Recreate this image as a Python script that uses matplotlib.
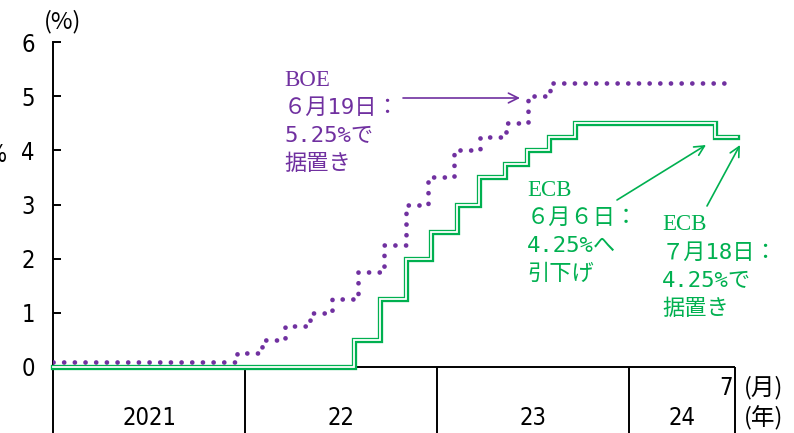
import pandas as pd
import matplotlib
matplotlib.use("Agg")
import matplotlib.pyplot as plt

# policy rates (%), step changes by effective date
boe_dates = ["2021-01-01", "2021-12-16", "2022-02-03", "2022-03-17", "2022-05-05",
             "2022-06-16", "2022-08-04", "2022-09-22", "2022-11-03", "2022-12-15",
             "2023-02-02", "2023-03-23", "2023-05-11", "2023-06-22", "2023-08-03"]
boe_rates = [0.1, 0.25, 0.5, 0.75, 1.0, 1.25, 1.75, 2.25, 3.0, 3.5,
             4.0, 4.25, 4.5, 5.0, 5.25]
boe_end = "2024-07-18"

ecb_dates = ["2021-01-01", "2022-07-27", "2022-09-14", "2022-11-02", "2022-12-21",
             "2023-02-08", "2023-03-22", "2023-05-10", "2023-06-21", "2023-08-02",
             "2023-09-20", "2024-06-12"]
ecb_rates = [0.0, 0.5, 1.25, 2.0, 2.5, 3.0, 3.5, 3.75, 4.0, 4.25, 4.5, 4.25]
ecb_end = "2024-07-24"

year_starts = ["2021-01-01", "2022-01-01", "2023-01-01", "2024-01-01"]
year_labels = ["2021", "22", "23", "24"]
x_end = "2024-07-20"
end_month = "7"
y_ticks = [0, 1, 2, 3, 4, 5, 6]

PURPLE = "#7030A0"
GREEN = "#00B050"
W, H = 794, 433
JP = ["Noto Sans CJK JP", "DejaVu Sans"]
JP_MONO = ["DejaVu Sans Mono", "Noto Sans CJK JP"]
SERIF = ["Liberation Serif", "DejaVu Serif"]
NUM = dict(family="DejaVu Sans", fontstretch="condensed", fontsize=17)


def px(x, y):
    # image pixel (top-left origin) -> figure pixels
    return (x, H - y)


def step_series(dates, rates, end):
    d = pd.to_datetime(list(dates) + [end])
    r = list(rates) + [rates[-1]]
    return d, r


fig = plt.figure(figsize=(W / 100, H / 100), dpi=100)
ax = fig.add_axes([53 / W, 0, (735 - 53) / W, (H - 42) / H])

y_bottom = -(H - 367) / ((367 - 42) / 6)
ax.set_ylim(y_bottom, 6)
x0 = pd.Timestamp(year_starts[0])
x1 = pd.Timestamp(x_end)
ax.set_xlim(x0, x1)

for s in ["top", "right", "bottom"]:
    ax.spines[s].set_visible(False)
ax.spines["left"].set_linewidth(1.4)
ax.set_yticks(y_ticks)
ax.set_yticklabels([str(v) for v in y_ticks], **NUM)
ax.tick_params(axis="y", direction="in", length=6, width=1.4, pad=13)
ax.set_xticks([])

# zero line and year band frame
ax.axhline(0, color="black", lw=1.4, zorder=2)
ax.vlines(pd.to_datetime(year_starts[1:] + [x_end]), y_bottom, 0,
          color="black", lw=1.4, clip_on=False)

bounds = pd.to_datetime(year_starts + [x_end])
for i, lab in enumerate(year_labels):
    mid = bounds[i] + (bounds[i + 1] - bounds[i]) / 2
    ax.text(mid, -0.94, lab, ha="center", va="center", **NUM)
ax.text(x1 - pd.Timedelta(days=4), -0.38, end_month, ha="right", va="center", **NUM)

fig.text(*px(744, 388), "(月)", transform=None, ha="left", va="center",
         family=JP, fontsize=17)
fig.text(*px(744, 418), "(年)", transform=None, ha="left", va="center",
         family=JP, fontsize=17)
fig.text(*px(44, 22), "(%)", transform=None, ha="left", va="center",
         family=JP, fontsize=17)
fig.text(*px(-3, 155), "%", transform=None, ha="center", va="center", **NUM)

# ECB: double line (green outline with white core)
d, r = step_series(ecb_dates, ecb_rates, ecb_end)
ax.step(d, r, where="post", color=GREEN, lw=3.8, solid_joinstyle="miter",
        zorder=3, clip_on=False)
ax.step(d, r, where="post", color="white", lw=1.3, solid_joinstyle="miter",
        zorder=4, clip_on=False)

# BOE: round dotted line
d, r = step_series(boe_dates, boe_rates, boe_end)
ax.step(d, r, where="post", color=PURPLE, lw=3.4, linestyle=(0, (0.01, 2.25)),
        dash_capstyle="round", zorder=5)


def label_block(x, y, lines, color):
    fig.text(*px(x, y), lines[0], transform=None, ha="left", va="center",
             family=SERIF, fontsize=16.5, color=color)
    for k, line in enumerate(lines[1:]):
        fig.text(*px(x, y + 28 * (k + 1)), line, transform=None, ha="left",
                 va="center", family=JP_MONO, fontsize=16, color=color)


label_block(284, 80, ["BOE", "６月19日：", "5.25%で", "据置き"], PURPLE)
label_block(527, 190, ["ECB", "６月６日：", "4.25%へ", "引下げ"], GREEN)
label_block(662, 225, ["ECB", "７月18日：", "4.25%で", "据置き"], GREEN)

arrow = "->,head_length=0.7,head_width=0.35"
for tail, head, color in [((403, 98), (520, 98), PURPLE),
                          ((617, 200), (706, 145), GREEN),
                          ((707, 206), (740, 145), GREEN)]:
    ax.annotate("", xy=px(*head), xytext=px(*tail), xycoords="figure pixels",
                textcoords="figure pixels",
                arrowprops=dict(arrowstyle=arrow, color=color, lw=1.2,
                                shrinkA=0, shrinkB=0))

fig.savefig("out.png", dpi=100)
